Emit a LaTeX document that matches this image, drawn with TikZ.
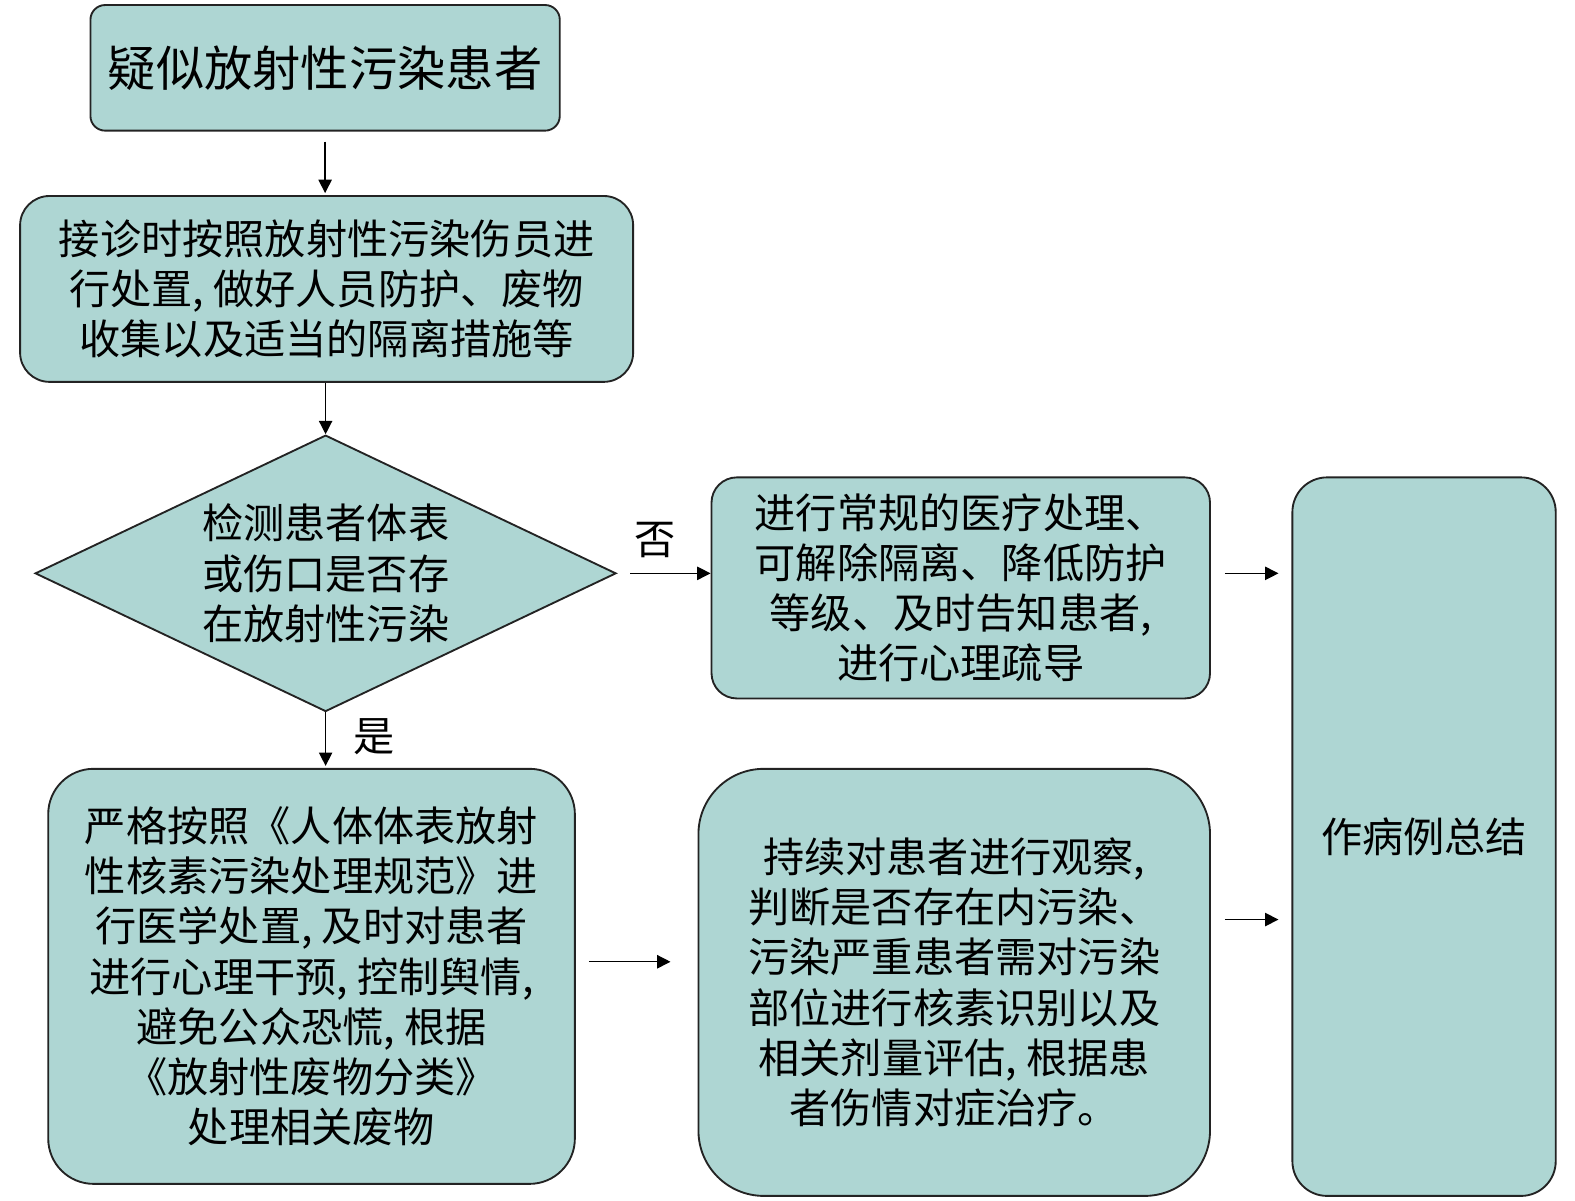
\documentclass[tikz,border=0pt]{standalone}
\usepackage{fontspec}
\newfontfamily\cjk{Noto Sans CJK SC}
\usetikzlibrary{shapes.geometric,arrows.meta}
\definecolor{stepfill}{RGB}{174,214,211}
\definecolor{stepline}{RGB}{35,35,35}
\begin{document}
\begin{tikzpicture}[x=0.75375pt,y=0.75375pt,yscale=-1,xscale=1,
  flowbox/.style={draw=stepline,line width=1.4pt,fill=stepfill,align=center,inner sep=0pt,
    font=\cjk\fontsize{30.9pt}{37.7pt}\selectfont},
  decision/.style={flowbox,diamond,aspect=2.1},
  flowlabel/.style={inner sep=0pt,font=\cjk\fontsize{30.9pt}{37.7pt}\selectfont},
  flowarrow/.style={-{Triangle[length=10pt,width=10pt]},line width=1pt,black}]
\useasboundingbox (0,0) rectangle (1567.2,1195);
%Shape: Rounded Rectangle
\node [flowbox,minimum width=352pt,minimum height=94.2pt,rounded corners=11pt,
  font=\cjk\fontsize{36.2pt}{43pt}\selectfont] (suspect) at (323.5,67.5) {疑似放射性污染患者};
%Shape: Rounded Rectangle
\node [flowbox,minimum width=459.8pt,minimum height=139.4pt,rounded corners=22pt] (receive) at (325,287.5)
  {接诊时按照放射性污染伤员进\\行处置, 做好人员防护、废物\\收集以及适当的隔离措施等};
%Shape: Diamond
\node [decision,minimum width=435.7pt,minimum height=207.3pt] (check) at (324,570.5)
  {检测患者体表\\或伤口是否存\\在放射性污染};
%Shape: Rounded Rectangle
\node [flowbox,minimum width=373.9pt,minimum height=165.8pt,rounded corners=19pt] (routine) at (956,585)
  {进行常规的医疗处理、\\可解除隔离、降低防护\\等级、及时告知患者,\\进行心理疏导};
%Shape: Rounded Rectangle
\node [flowbox,minimum width=197.5pt,minimum height=538.9pt,rounded corners=26pt] (summary) at (1417,832.5)
  {作病例总结};
%Shape: Rounded Rectangle
\node [flowbox,minimum width=395pt,minimum height=311.3pt,rounded corners=34pt] (treat) at (310,971.5)
  {严格按照《人体体表放射\\性核素污染处理规范》进\\行医学处置, 及时对患者\\进行心理干预, 控制舆情,\\避免公众恐慌, 根据\\《放射性废物分类》\\处理相关废物};
%Shape: Rounded Rectangle
\node [flowbox,minimum width=383.7pt,minimum height=320.3pt,rounded corners=49pt] (observe) at (949.5,977.5)
  {持续对患者进行观察,\\判断是否存在内污染、\\污染严重患者需对污染\\部位进行核素识别以及\\相关剂量评估, 根据患\\者伤情对症治疗。};
% Text Node
\node [flowlabel] (nolabel) at (652,537) {否};
% Text Node
\node [flowlabel] (yeslabel) at (372,733) {是};
\coordinate (treatrow) at (0,957);
\coordinate (observerow) at (0,915);
%Straight Lines
\draw [flowarrow,shorten <=7.5pt,shorten >=1.5pt] (suspect.south) -- (suspect.south |- receive.north);
\draw [flowarrow] (receive.south -| check.north) -- (check.north);
\draw [flowarrow,shorten <=9.75pt] (check.east) -- (check.east -| routine.west);
\draw [flowarrow,shorten <=10.5pt,shorten >=9.75pt] (routine.east |- check.east) -- (summary.west |- check.east);
\draw [flowarrow,shorten >=1.5pt] (check.south) -- (check.south |- treat.north);
\draw [flowarrow,shorten <=9.75pt,shorten >=20.25pt] (treat.east |- treatrow) -- (observe.west |- treatrow);
\draw [flowarrow,shorten <=10.5pt,shorten >=9.75pt] (observe.east |- observerow) -- (summary.west |- observerow);
\end{tikzpicture}
\end{document}
